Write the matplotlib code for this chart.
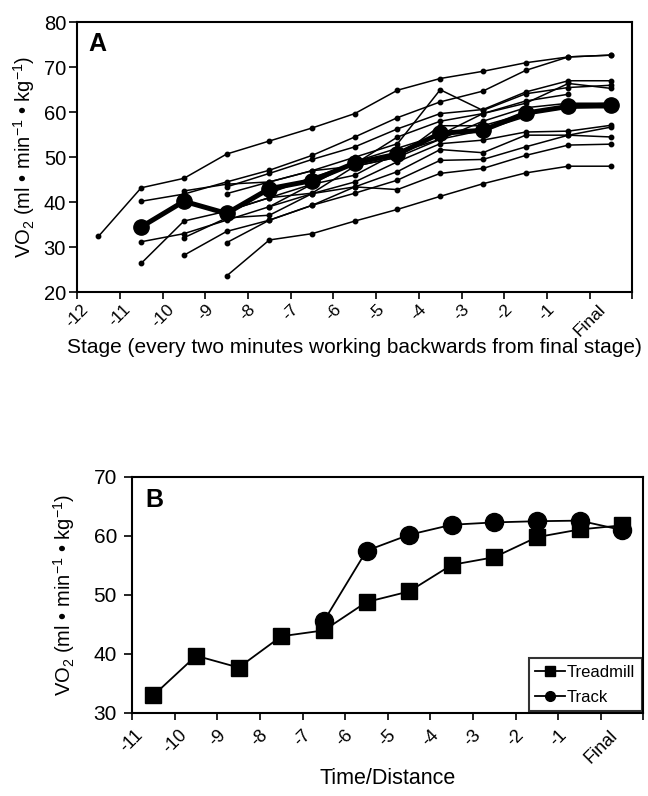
import numpy as np
import matplotlib.pyplot as plt
from matplotlib.lines import Line2D

plt.rcParams['font.family'] = ['Liberation Sans', 'DejaVu Sans']
plt.rcParams['mathtext.fontset'] = 'custom'
plt.rcParams['mathtext.rm'] = 'Liberation Sans'
plt.rcParams['mathtext.it'] = 'Liberation Sans:italic'
plt.rcParams['mathtext.bf'] = 'Liberation Sans:bold'

nan = np.nan

# ── Panel A: individual subjects + mean ─────────────────────────────
stages_a = ["-12", "-11", "-10", "-9", "-8", "-7", "-6", "-5", "-4", "-3", "-2", "-1", "Final"]

subjects_a = [
    [32.4, 43.2, 45.3, 50.7, 53.6, 56.5, 59.7, 64.9, 67.5, 69.1, 71.0, 72.3, 72.7],
    [nan, 40.2, 41.8, 44.5, 47.1, 50.4, 54.5, 58.8, 62.3, 64.7, 69.3, 72.3, 72.7],
    [nan, nan, nan, 43.4, 46.4, 49.5, 52.3, 56.3, 59.7, 60.6, 64.5, 67.0, 67.0],
    [nan, nan, nan, 41.9, 44.5, 47.0, 50.0, 53.0, 65.0, 60.4, 64.1, 65.5, 66.0],
    [nan, nan, nan, nan, 42.0, 45.5, 48.5, 54.5, 58.0, 59.7, 62.0, 66.4, 65.3],
    [nan, 31.2, 33.0, 36.0, 39.0, 44.0, 46.0, 51.0, 54.0, 58.0, 61.0, 62.0, 62.0],
    [nan, 26.4, 35.8, 38.0, 41.0, 42.0, 48.0, 50.0, 57.0, 57.0, 59.7, 61.0, 61.0],
    [nan, nan, 32.1, 36.5, 37.1, 41.9, 44.5, 49.0, 53.0, 53.8, 55.6, 55.8, 57.1],
    [nan, nan, 28.2, 33.5, 36.0, 39.3, 43.4, 46.8, 51.7, 51.0, 54.9, 54.9, 56.7],
    [nan, nan, nan, 31.0, 36.0, 39.3, 42.0, 44.9, 49.3, 49.5, 52.3, 54.9, 54.5],
    [nan, nan, nan, 23.6, 31.6, 33.0, 35.8, 38.4, 41.3, 44.1, 46.5, 48.0, 48.0],
    [nan, nan, nan, nan, 39.0, 41.9, 43.4, 42.8, 46.4, 47.5, 50.4, 52.7, 52.9],
    [nan, nan, 42.5, 44.0, 44.5, 47.0, 48.0, 50.0, 54.0, 56.0, 59.0, nan, nan],
    [nan, nan, nan, 38.0, 41.0, 44.0, 49.0, 52.0, 55.0, 59.7, 62.5, 64.0, nan],
]

mean_a = [nan, 34.5, 40.2, 37.5, 43.0, 44.8, 48.7, 50.7, 55.3, 56.0, 59.8, 61.3, 61.6]

# ── Panel B: treadmill vs track ─────────────────────────────────────
stages_b = ["-11", "-10", "-9", "-8", "-7", "-6", "-5", "-4", "-3", "-2", "-1", "Final"]
treadmill = [33.0, 39.7, 37.7, 43.0, 44.0, 48.8, 50.6, 55.1, 56.4, 59.8, 61.1, 61.8]
track = [nan, nan, nan, nan, 45.6, 57.5, 60.2, 61.9, 62.3, 62.5, 62.6, 61.0]

YLABEL = r"VO$_2$ (ml • min$^{-1}$ • kg$^{-1}$)"

fig = plt.figure(figsize=(6.48, 7.96), dpi=100)

# Panel A
ax1 = fig.add_axes([0.119, 0.633, 0.857, 0.339])
xa = np.arange(len(stages_a))
for s in subjects_a:
    ax1.plot(xa, s, color="black", lw=1.1, marker="o", ms=3.2)
ax1.plot(xa, mean_a, color="black", lw=3.6, marker="o", ms=11)
ax1.set_xlim(-0.5, len(stages_a) - 0.5)
ax1.set_ylim(20, 80)
ax1.set_yticks(range(20, 81, 10))
ax1.set_xticks(np.arange(len(stages_a) + 1) - 0.5)
ax1.set_xticklabels(stages_a + [""], rotation=45, ha="center", fontsize=12.5)
ax1.tick_params(axis="y", labelsize=14.5, direction="out", length=6, width=1.2, pad=2)
ax1.tick_params(axis="x", direction="out", length=5, width=1.2, pad=2)
ax1.set_ylabel(YLABEL, fontsize=14.5, labelpad=5)
ax1.set_xlabel("Stage (every two minutes working backwards from final stage)", fontsize=15, labelpad=-1)
ax1.text(0.02, 0.965, "A", transform=ax1.transAxes, fontsize=18, fontweight="bold", va="top")
for sp in ax1.spines.values():
    sp.set_linewidth(1.5)

# Panel B
ax2 = fig.add_axes([0.204, 0.1043, 0.789, 0.2965])
xb = np.arange(len(stages_b))
ax2.plot(xb, track, color="black", lw=1.3, marker="o", ms=13)
ax2.plot(xb, treadmill, color="black", lw=1.3, marker="s", ms=12)
ax2.set_xlim(-0.5, len(stages_b) - 0.5)
ax2.set_ylim(30, 70)
ax2.set_yticks(range(30, 71, 10))
ax2.set_xticks(np.arange(len(stages_b) + 1) - 0.5)
ax2.set_xticklabels(stages_b + [""], rotation=45, ha="center", fontsize=13)
ax2.tick_params(axis="y", labelsize=15, direction="out", length=6, width=1.2, pad=5)
ax2.tick_params(axis="x", direction="out", length=5, width=1.2, pad=5)
ax2.set_ylabel(YLABEL, fontsize=14.5, labelpad=12)
ax2.set_xlabel("Time/Distance", fontsize=15.5, labelpad=1)
ax2.text(0.025, 0.955, "B", transform=ax2.transAxes, fontsize=18, fontweight="bold", va="top")
for sp in ax2.spines.values():
    sp.set_linewidth(1.5)

handles = [Line2D([], [], color="black", lw=1.3, marker="s", ms=7),
           Line2D([], [], color="black", lw=1.3, marker="o", ms=7)]
leg = ax2.legend(handles, ["Treadmill", "Track"], loc="lower right", fontsize=12,
                 frameon=True, fancybox=False, edgecolor="black", borderaxespad=0.1,
                 handlelength=1.8, handletextpad=0.1, borderpad=0.4, labelspacing=0.6)
leg.get_frame().set_linewidth(1.5)

fig.savefig("out.png", dpi=100)
